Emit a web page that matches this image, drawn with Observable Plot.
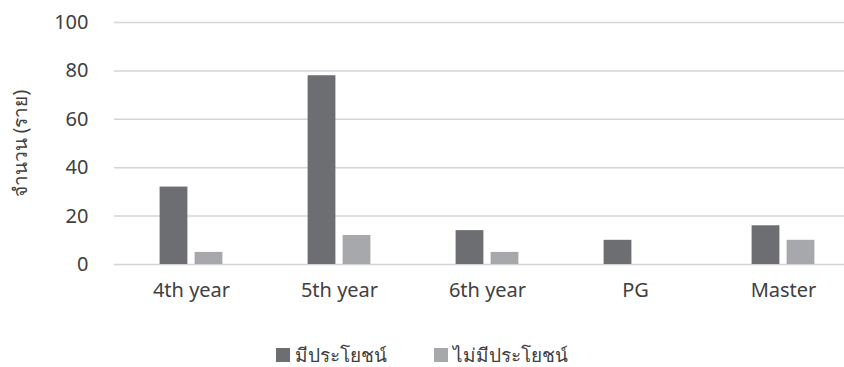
<!DOCTYPE html>
<html>
<head>
<meta charset="utf-8">
<script src="https://cdn.jsdelivr.net/npm/d3@7"></script>
<script src="https://cdn.jsdelivr.net/npm/@observablehq/plot@0.6"></script>
<style>
  body { margin: 0; background: #fff; font-family: "Noto Sans", "Open Sans", sans-serif; }
  #legend { display: flex; justify-content: center; align-items: center; gap: 47px; margin-top: 19px; font-size: 19px; line-height: 22px; height: 22px; color: #404040; }
  .item { display: flex; align-items: center; gap: 5px; }
  .sw { width: 14px; height: 14px; display: inline-block; }
</style>
</head>
<body>
<div id="chart"></div>
<div id="legend"></div>
<script>
const categories = ["4th year", "5th year", "6th year", "PG", "Master"];
const seriesNames = ["มีประโยชน์", "ไม่มีประโยชน์"];
const usefulValues = [32, 78, 14, 10, 16];
const notUsefulValues = [5, 12, 5, 0, 10];
const yTicks = [0, 20, 40, 60, 80, 100];
const colors = ["#6d6e71", "#a7a8ab"];
const yLabel = "จำนวน (ราย)";

const rows = categories.flatMap((c, i) => [
  {category: c, series: seriesNames[0], value: usefulValues[i]},
  {category: c, series: seriesNames[1], value: notUsefulValues[i]}
]);

const chart = Plot.plot({
  width: 844,
  height: 325,
  marginTop: 22,
  marginBottom: 61,
  marginLeft: 114,
  marginRight: 0,
  style: {fontFamily: "'Noto Sans', 'Open Sans', sans-serif", fontSize: "20px", color: "#404040", background: "#fff"},
  x: {domain: categories, range: [116.5, 857.5], padding: 0, label: null},
  y: {domain: [0, 100], label: null},
  color: {domain: seriesNames, range: colors},
  marks: [
    Plot.ruleY(yTicks, {stroke: "#d4d4d4", strokeWidth: 1.5}),
    Plot.barY(rows.filter(d => d.series === seriesNames[0]), {x: "category", y: "value", fill: "series", dx: -17.5, insetLeft: 60.1, insetRight: 60.1}),
    Plot.barY(rows.filter(d => d.series === seriesNames[1]), {x: "category", y: "value", fill: "series", dx: 17.5, insetLeft: 60.1, insetRight: 60.1}),
    Plot.axisY(yTicks, {tickSize: 0, tickPadding: 26, label: null, fontSize: 20, fill: "#404040"}),
    Plot.axisX({tickSize: 0, tickPadding: 18, label: null, fontSize: 20, fill: "#404040"}),
    Plot.text([yLabel], {frameAnchor: "left", textAnchor: "middle", lineAnchor: "middle", rotate: -90, dx: -94, fontSize: 19, fontWeight: "normal", fill: "#404040"})
  ]
});
document.getElementById("chart").appendChild(chart);

const legend = document.getElementById("legend");
seriesNames.forEach((name, i) => {
  const item = document.createElement("span");
  item.className = "item";
  const sw = document.createElement("span");
  sw.className = "sw";
  sw.style.background = colors[i];
  const t = document.createElement("span");
  t.textContent = name;
  item.appendChild(sw);
  item.appendChild(t);
  legend.appendChild(item);
});
</script>
</body>
</html>
